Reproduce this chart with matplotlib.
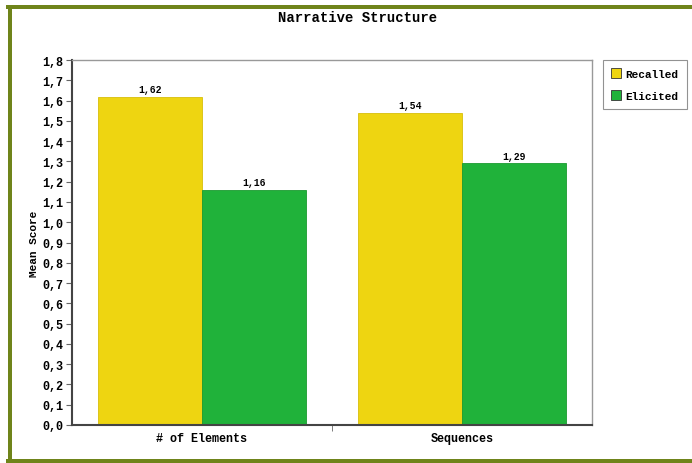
import matplotlib
matplotlib.use("Agg")
import matplotlib.pyplot as plt
import numpy as np
from matplotlib.lines import Line2D

categories = ["# of Elements", "Sequences"]
series = ["Recalled", "Elicited"]
recalled = [1.62, 1.54]
elicited = [1.16, 1.29]
colors = ["#EED511", "#20B23A"]
edges = ["#D8BE0A", "#1A9A30"]

W, H = 692, 464
fig = plt.figure(figsize=(W / 100, H / 100), dpi=100)
mono = "Liberation Mono"

# olive frame around the picture
olive = "#6F841A"
lw = 4 * 72 / 100
fig.add_artist(Line2D([10 / W, 10 / W], [1 - 8 / H, 1 - 462 / H], color=olive, lw=lw, transform=fig.transFigure))
fig.add_artist(Line2D([8 / W, 1], [1 - 8 / H, 1 - 8 / H], color=olive, lw=lw, transform=fig.transFigure))
fig.add_artist(Line2D([8 / W, 1], [1 - 462 / H, 1 - 462 / H], color=olive, lw=lw, transform=fig.transFigure))

left, right, top, bottom = 72, 592, 61, 426
ax = fig.add_axes([left / W, 1 - bottom / H, (right - left) / W, (bottom - top) / H])

x = np.arange(len(categories))
w = 0.4
for i, (vals, name) in enumerate([(recalled, series[0]), (elicited, series[1])]):
    bars = ax.bar(x + (i - 0.5) * w, vals, w, color=colors[i], edgecolor=edges[i], linewidth=0.6, label=name)
    for b, v in zip(bars, vals):
        ax.text(b.get_x() + b.get_width() / 2, v + 0.012, f"{v:.2f}".replace(".", ","),
                ha="center", va="bottom", fontsize=7, fontfamily=mono, fontweight="bold",
                bbox=dict(facecolor="white", edgecolor="none", pad=0.5))

ax.set_xlim(-0.5, 1.5)
ax.set_ylim(0, 1.8)
yt = np.round(np.arange(0, 1.81, 0.1), 1)
ax.set_yticks(yt)
ax.set_yticklabels([f"{v:.1f}".replace(".", ",") for v in yt], fontfamily=mono, fontweight="bold", fontsize=8.5)
ax.set_xticks(x)
ax.set_xticklabels(categories, fontfamily=mono, fontweight="bold", fontsize=8.5)
ax.set_xticks([0.5], minor=True)
ax.tick_params(axis="x", which="major", length=0, pad=5)
ax.tick_params(axis="x", which="minor", length=4, color="#666666")
ax.tick_params(axis="y", length=4, color="#666666", pad=2)
ax.set_ylabel("Mean Score", fontfamily=mono, fontweight="bold", fontsize=8, labelpad=3)

for s in ["top", "right"]:
    ax.spines[s].set_color("#999999")
    ax.spines[s].set_linewidth(1.0)
for s in ["left", "bottom"]:
    ax.spines[s].set_color("#444444")
    ax.spines[s].set_linewidth(1.5)

fig.text(358 / W, 1 - 18 / H, "Narrative Structure", ha="center", va="center",
         fontfamily=mono, fontweight="bold", fontsize=10)

leg = fig.legend(loc="upper left", bbox_to_anchor=(603 / W, 1 - 61 / H), borderaxespad=0,
                 prop=dict(family=mono, weight="bold", size=8), frameon=True, fancybox=False,
                 handlelength=0.9, handleheight=0.9, handletextpad=0.35, borderpad=0.75, labelspacing=1.05)
leg.get_frame().set_edgecolor("#777777")
leg.get_frame().set_linewidth(0.8)
for h in leg.legend_handles:
    h.set_edgecolor("#333333")
    h.set_linewidth(0.6)

fig.savefig("out.png", dpi=100)
